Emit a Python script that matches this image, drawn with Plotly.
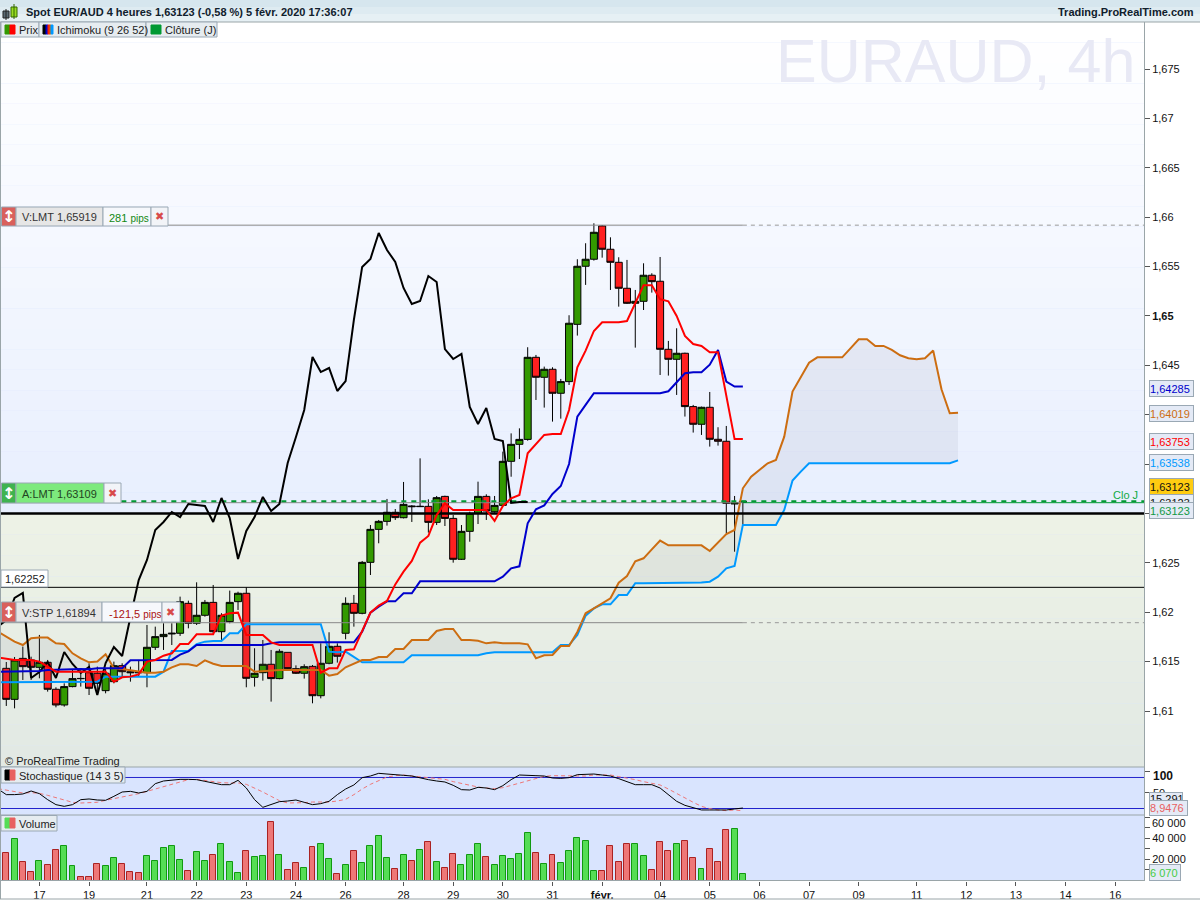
import plotly.graph_objects as go

W = 1200
H = 900
FONT = "Liberation Sans"

# 4h candles, values
open_prices = [
    1.61432, 1.61118, 1.61533, 1.61517, 1.61442, 1.61493, 1.6122, 1.61061, 1.61247, 1.6133,
    1.61388, 1.61382, 1.61206, 1.61297, 1.61459, 1.61398, 1.61395, 1.61388, 1.61645, 1.61753,
    1.6178, 1.61787, 1.6209, 1.61888, 1.61969, 1.621, 1.61803, 1.61905, 1.62107, 1.62192,
    1.61341, 1.61388, 1.61473, 1.61328, 1.61594, 1.61429, 1.61382, 1.61452, 1.61155, 1.61483,
    1.61655, 1.61787, 1.6209, 1.61989, 1.62505, 1.62839, 1.6292, 1.63012, 1.62957, 1.63076,
    1.63069, 1.63072, 1.6291, 1.63173, 1.6295, 1.62536, 1.62819, 1.63001, 1.63173, 1.63018,
    1.63082, 1.63528, 1.637, 1.6375, 1.64581, 1.64379, 1.6446, 1.64217, 1.64335, 1.64915,
    1.65503, 1.65574, 1.65911, 1.65675, 1.65543, 1.6528, 1.65128, 1.65148, 1.65412, 1.65351,
    1.64662, 1.64561, 1.64622, 1.64082, 1.63903, 1.64075, 1.63751, 1.63731, 1.63096, 1.63112,
]
high_prices = [
    1.61496, 1.61547, 1.61652, 1.6155, 1.6177, 1.61517, 1.6124, 1.6128, 1.61415, 1.61415,
    1.61483, 1.61449, 1.61432, 1.615, 1.61483, 1.61449, 1.61517, 1.61871, 1.61854, 1.61888,
    1.61888, 1.62158, 1.62117, 1.62303, 1.62124, 1.62276, 1.6199, 1.62219, 1.62208, 1.62252,
    1.61635, 1.61719, 1.61618, 1.61625, 1.61594, 1.61462, 1.61473, 1.61466, 1.61685, 1.61797,
    1.61685, 1.62151, 1.62175, 1.62519, 1.62883, 1.62934, 1.63147, 1.63045, 1.63319, 1.63085,
    1.63558, 1.63143, 1.63177, 1.6318, 1.62984, 1.62883, 1.63018, 1.63322, 1.63194, 1.63177,
    1.63626, 1.63811, 1.63862, 1.64683, 1.64605, 1.64487, 1.6448, 1.64362, 1.65007, 1.65574,
    1.65736, 1.65938, 1.6592, 1.65796, 1.65594, 1.65567, 1.65263, 1.65533, 1.65432, 1.65597,
    1.64747, 1.64875, 1.64628, 1.64099, 1.64082, 1.6423, 1.63873, 1.63886, 1.63177, 1.63123,
]
low_prices = [
    1.61051, 1.61027, 1.61314, 1.61314, 1.61331, 1.61196, 1.61037, 1.61044, 1.6124, 1.61247,
    1.61162, 1.61162, 1.61179, 1.6128, 1.61348, 1.61297, 1.61348, 1.6124, 1.61618, 1.61618,
    1.61668, 1.6176, 1.61837, 1.61871, 1.61955, 1.6178, 1.61719, 1.61888, 1.62023, 1.6124,
    1.61247, 1.61307, 1.61095, 1.61321, 1.61422, 1.61375, 1.61328, 1.61078, 1.61128, 1.61473,
    1.6149, 1.61726, 1.61854, 1.61979, 1.62377, 1.62698, 1.62877, 1.62934, 1.6295, 1.62914,
    1.63065, 1.62806, 1.62883, 1.62873, 1.62502, 1.62529, 1.62714, 1.62893, 1.62934, 1.63008,
    1.63076, 1.63372, 1.63551, 1.63737, 1.64149, 1.64072, 1.6393, 1.6396, 1.64301, 1.64801,
    1.65314, 1.6556, 1.6559, 1.65263, 1.65094, 1.65121, 1.64679, 1.6506, 1.65236, 1.64402,
    1.64396, 1.642, 1.63981, 1.63819, 1.63795, 1.63677, 1.63687, 1.62799, 1.62613, 1.6289,
]
close_prices = [
    1.61118, 1.61516, 1.61449, 1.61442, 1.61493, 1.6122, 1.61061, 1.61247, 1.61328, 1.61328,
    1.6123, 1.6128, 1.61382, 1.61459, 1.61398, 1.61388, 1.61388, 1.61645, 1.61753, 1.61776,
    1.61787, 1.62107, 1.61888, 1.61969, 1.621, 1.61803, 1.61969, 1.621, 1.62192, 1.61331,
    1.61382, 1.61473, 1.61328, 1.61604, 1.61429, 1.61382, 1.61449, 1.61155, 1.61483, 1.61655,
    1.61554, 1.6209, 1.61989, 1.62505, 1.62839, 1.6292, 1.63012, 1.62958, 1.63092, 1.63069,
    1.63072, 1.6291, 1.6316, 1.6295, 1.62536, 1.62819, 1.63001, 1.63173, 1.63025, 1.63082,
    1.63528, 1.637, 1.6375, 1.64581, 1.64379, 1.6446, 1.64217, 1.64335, 1.64926, 1.65503,
    1.65574, 1.65847, 1.65675, 1.65543, 1.6528, 1.65128, 1.65148, 1.65412, 1.65347, 1.64662,
    1.64561, 1.64622, 1.64082, 1.63903, 1.64075, 1.63751, 1.63731, 1.63103, 1.63109, 1.63123,
]

# ichimoku lines, they start one bar before the first visible candle
tenkan = [
    1.61543, 1.61527, 1.61517, 1.61517, 1.61517, 1.615, 1.61449, 1.61398, 1.61398, 1.61398, 1.61398,
    1.61398, 1.61398, 1.61398, 1.61297, 1.61341, 1.61348, 1.61371, 1.615, 1.61517, 1.6156,
    1.61584, 1.61678, 1.61678, 1.61776, 1.61776, 1.61776, 1.61965, 1.61989, 1.61996, 1.6177,
    1.6177, 1.6177, 1.61695, 1.61668, 1.61668, 1.61668, 1.61668, 1.61668, 1.61388, 1.61432,
    1.61432, 1.61618, 1.61624, 1.61803, 1.61996, 1.62067, 1.62114, 1.62282, 1.62411, 1.62519,
    1.62704, 1.62772, 1.62984, 1.63103, 1.63035, 1.63035, 1.63035, 1.63035, 1.63035, 1.62924,
    1.63076, 1.63153, 1.63187, 1.63609, 1.63703, 1.63795, 1.63805, 1.63805, 1.64048, 1.6448,
    1.64649, 1.64848, 1.64936, 1.64936, 1.64936, 1.64949, 1.65128, 1.6531, 1.6531, 1.65169,
    1.65148, 1.65, 1.64797, 1.64716, 1.64696, 1.64632, 1.64632, 1.64183, 1.63753, 1.63753,
]
kijun = [
    1.61398, 1.61398, 1.61398, 1.61398, 1.61398, 1.61405, 1.61415, 1.61419, 1.61422, 1.61425, 1.61425,
    1.61422, 1.61432, 1.61432, 1.61432, 1.61432, 1.61513, 1.61513, 1.61513, 1.61513, 1.61513,
    1.61517, 1.61571, 1.61604, 1.61668, 1.61668, 1.61668, 1.61668, 1.61668, 1.61668, 1.61668,
    1.61668, 1.61668, 1.61685, 1.61695, 1.61695, 1.61695, 1.61695, 1.61695, 1.61695, 1.61695,
    1.61695, 1.61695, 1.61695, 1.61803, 1.61996, 1.62056, 1.6211, 1.6211, 1.62191, 1.62191,
    1.62313, 1.62313, 1.62313, 1.62313, 1.62313, 1.62313, 1.62313, 1.62313, 1.62313, 1.62313,
    1.6236, 1.62444, 1.62465, 1.629, 1.63042, 1.63082, 1.63197, 1.63278, 1.63501, 1.63981,
    1.64099, 1.64217, 1.64217, 1.64217, 1.64217, 1.64217, 1.64217, 1.64217, 1.64217, 1.64217,
    1.64237, 1.64325, 1.64419, 1.6443, 1.6443, 1.64507, 1.64656, 1.64335, 1.64285, 1.64285,
]
senkou_a = [
    1.61803, 1.61753, 1.61702, 1.61668, 1.61736, 1.61743, 1.61743, 1.61685, 1.61678, 1.61584, 1.61533,
    1.61493, 1.615, 1.61574, 1.61432, 1.61425, 1.61415, 1.61398, 1.61388, 1.61388, 1.61398,
    1.61442, 1.61473, 1.61473, 1.61456, 1.61513, 1.61479, 1.61456, 1.61456, 1.61456, 1.61456,
    1.61398, 1.61405, 1.61415, 1.61415, 1.61415, 1.61415, 1.61415, 1.61415, 1.61415, 1.61358,
    1.61375, 1.61442, 1.61483, 1.61516, 1.61516, 1.61547, 1.61547, 1.61628, 1.61628, 1.61719,
    1.61719, 1.61719, 1.6181, 1.6183, 1.6183, 1.61719, 1.61719, 1.61712, 1.61685, 1.61695,
    1.61685, 1.61685, 1.61685, 1.61675, 1.61533, 1.61564, 1.61567, 1.61658, 1.61658, 1.618,
    1.61989, 1.62039, 1.6209, 1.62141, 1.62299, 1.62367, 1.62515, 1.62546, 1.62637, 1.62725,
    1.62677, 1.62677, 1.62677, 1.62677, 1.62677, 1.6262, 1.62704, 1.62792, 1.62833, 1.63255,
    1.63373, 1.63441, 1.63508, 1.63542, 1.63778, 1.64234, 1.64386, 1.64527, 1.64581, 1.64581,
    1.64581, 1.64581, 1.64672, 1.64764, 1.64764, 1.64696, 1.64696, 1.64656, 1.64602, 1.64571,
    1.64561, 1.64571, 1.64649, 1.64257, 1.64014, 1.64019,
]
senkou_b = [
    1.6129, 1.6129, 1.6129, 1.6129, 1.6129, 1.6129, 1.6129, 1.6129, 1.6129, 1.6129, 1.6129,
    1.6129, 1.61297, 1.61348, 1.61348, 1.61348, 1.61348, 1.61348, 1.61348, 1.61348, 1.61398,
    1.61608, 1.61608, 1.61608, 1.61678, 1.61702, 1.61709, 1.61709, 1.61787, 1.61787, 1.61878,
    1.61878, 1.61878, 1.61878, 1.61878, 1.61878, 1.61878, 1.61878, 1.61878, 1.61878, 1.61601,
    1.61594, 1.61601, 1.6155, 1.61493, 1.61493, 1.61493, 1.61493, 1.61493, 1.61493, 1.61564,
    1.61564, 1.61564, 1.61564, 1.61564, 1.61564, 1.61564, 1.61564, 1.61564, 1.61584, 1.61594,
    1.61594, 1.61594, 1.61594, 1.61594, 1.61594, 1.61594, 1.61594, 1.61668, 1.61668, 1.61769,
    1.61965, 1.62039, 1.6208, 1.6208, 1.62174, 1.62174, 1.62293, 1.62293, 1.62293, 1.62293,
    1.62293, 1.62293, 1.62293, 1.62293, 1.623, 1.62309, 1.6236, 1.62444, 1.62468, 1.62884,
    1.62884, 1.62884, 1.62884, 1.62884, 1.63036, 1.63333, 1.63424, 1.63508, 1.63508, 1.63508,
    1.63508, 1.63508, 1.63508, 1.63508, 1.63508, 1.63508, 1.63508, 1.63508, 1.63508, 1.63508,
    1.63508, 1.63508, 1.63508, 1.63508, 1.63508, 1.63538,
]
chikou = [
    1.61854, 1.61921, 1.62144, 1.62195, 1.61334, 1.61395, 1.61496, 1.61334, 1.61597, 1.61476, 1.61385,
    1.61446, 1.61162, 1.61486, 1.61648, 1.61557, 1.61952, 1.62326, 1.62529, 1.62833, 1.62914,
    1.63015, 1.62964, 1.63096, 1.63086, 1.63076, 1.62914, 1.63157, 1.62954, 1.62539, 1.62823,
    1.62964, 1.63167, 1.63025, 1.63096, 1.63511, 1.63774, 1.64048, 1.64584, 1.64432, 1.64473,
    1.6424, 1.64341, 1.64959, 1.65496, 1.65577, 1.6584, 1.65668, 1.65546, 1.65283, 1.65121,
    1.65151, 1.65404, 1.65344, 1.64665, 1.64564, 1.64615, 1.64078, 1.63906, 1.64068, 1.63754,
    1.63734, 1.63106, 1.63116, 1.63116,
]

stoch_k = [
    59.2, 46.2, 46.2, 47.7, 54.6, 48.5, 34.6, 23.1, 19.2, 23.1, 34.6,
    36.2, 33.8, 33.1, 42.3, 52.3, 53.8, 50.0, 53.8, 71.5, 77.7,
    80.0, 81.5, 81.5, 80.8, 76.9, 72.3, 69.2, 69.2, 79.2, 61.5,
    34.6, 16.9, 23.1, 30.0, 31.5, 33.8, 28.5, 23.1, 25.4, 30.8,
    46.2, 59.2, 68.5, 85.4, 89.2, 95.4, 93.8, 91.5, 90.8, 89.2,
    84.6, 80.8, 77.7, 75.4, 67.7, 57.7, 56.9, 63.1, 61.5, 57.7,
    66.9, 80.8, 91.5, 91.5, 90.0, 89.2, 84.6, 83.8, 85.4, 92.3,
    93.8, 93.8, 91.5, 89.2, 83.1, 76.9, 69.2, 69.2, 69.2, 61.5,
    46.2, 30.8, 21.5, 15.4, 10.8, 10.8, 10.8, 10.8, 13.1, 15.3,
]
stoch_d = [
    60.0, 56.2, 52.3, 50.0, 50.8, 49.2, 44.6, 39.2, 33.8, 28.5, 26.9,
    26.9, 28.5, 33.1, 36.9, 40.0, 43.8, 48.5, 53.8, 59.2, 63.8,
    70.0, 76.2, 80.8, 81.5, 78.5, 76.2, 73.8, 73.1, 73.1, 70.0,
    61.5, 52.3, 42.3, 32.3, 26.9, 26.9, 27.7, 29.2, 28.5, 29.2,
    31.5, 35.4, 46.2, 59.2, 70.0, 79.2, 86.9, 90.0, 91.5, 89.2,
    86.9, 85.4, 83.8, 81.5, 76.2, 71.5, 66.9, 63.8, 61.5, 60.0,
    62.3, 67.7, 73.1, 79.2, 83.8, 88.5, 90.0, 90.0, 89.2, 88.5,
    89.2, 91.5, 92.3, 91.5, 87.7, 84.6, 80.8, 76.2, 72.3, 68.5,
    59.2, 48.5, 37.7, 28.5, 19.2, 13.8, 10.8, 9.2, 10.8, 8.95,
]
stoch_levels = [85.8, 14.2]

volumes = [
    26350, 39690, 17780, 8260, 18730, 14920, 29210, 33020, 13970, 3490,
    3490, 15880, 13970, 21590, 15880, 8260, 7300, 23500, 18730, 31120,
    33020, 19690, 9210, 27310, 18730, 24450, 34930, 17780, 7300, 28260,
    22540, 23500, 54930, 24450, 10160, 16830, 12070, 32070, 34930, 20640,
    6350, 14920, 28260, 16830, 33020, 41590, 21590, 11110, 24450, 18730,
    29210, 36830, 17780, 12070, 25400, 14920, 24450, 34930, 22540, 14920,
    23500, 20640, 25400, 44450, 26350, 15880, 24450, 16830, 28260, 40640,
    37780, 9210, 9210, 33020, 17780, 34930, 34930, 23500, 10160, 36830,
    28260, 34930, 37780, 21590, 11110, 30160, 17780, 47310, 48260, 6070,
]

# day labels sit on the first bar of each session
day_ticks = [4, 10, 17, 23, 29, 35, 41, 48, 54, 60, 66, 72, 79, 85, 91, 97, 103, 110, 116, 122, 128, 134]
day_labels = ["17", "19", "21", "22", "23", "24", "26", "28", "29", "30", "31", "<b>févr.</b>",
              "04", "05", "06", "07", "09", "11", "12", "13", "14", "16"]
# 1,63 1,635 and 1,64 are covered by the value tags in the picture
price_ticks = [1.61, 1.615, 1.62, 1.625, 1.63, 1.635, 1.64, 1.645, 1.65, 1.655, 1.66, 1.665, 1.67, 1.675]
price_labels = ["1,61", "1,615", "1,62", "1,625", "", "", "", "1,645", "<b>1,65</b>",
                "1,655", "1,66", "1,665", "1,67", "1,675"]
volume_ticks = [10000, 20000, 30000, 40000, 50000, 60000]
volume_labels = ["", "20 000", "", "40 000", "", ""]

stop_level = 1.61894
limit_level = 1.65919
buy_level = 1.63109
close_level = 1.63123
support_level = 1.63
thin_level = 1.62252

last_bar = 89
x_left = -0.76
x_right = 137.47
y_low = 1.60433
y_high = 1.67976


def px(x):
    return x / W


def py(y):
    return 1 - y / H


def box(x0, y0, x1, y1, fill, line="#9aa8b4"):
    return dict(type="rect", xref="paper", yref="paper", x0=px(x0), x1=px(x1), y0=py(y0), y1=py(y1),
                fillcolor=fill, line=dict(color=line, width=1), layer="above")


def label(x, y, text, color="#222222", size=11, anchor="left", bold=False, family=FONT):
    if bold:
        text = "<b>" + text + "</b>"
    return dict(xref="paper", yref="paper", x=px(x), y=py(y), text=text, showarrow=False,
                xanchor=anchor, yanchor="middle", font=dict(family=family, size=size, color=color))


def value_tag(y0, text, color, fill="#e4eaf6", width=43, height=15):
    return dict(xref="paper", yref="paper", x=px(1149), y=py(y0), text=text, showarrow=False,
                xanchor="left", yanchor="top", width=width, height=height, align="left",
                bgcolor=fill, bordercolor="#9aa8b4", borderwidth=1, borderpad=0,
                font=dict(family=FONT, size=11, color=color))


def level_line(x0, x1, level, color, width, dash="solid"):
    return go.Scatter(x=[x0, x1], y=[level, level], mode="lines", line=dict(color=color, width=width, dash=dash),
                      hoverinfo="skip", showlegend=False)


def series_line(values, color, width, yaxis="y", dash="solid"):
    return go.Scatter(x=list(range(-1, len(values) - 1)), y=values, yaxis=yaxis, mode="lines",
                      line=dict(color=color, width=width, dash=dash), hoverinfo="skip", showlegend=False)


def gradient_strips(y0, y1, top, bottom, steps):
    # plotly draws candles under every scatter fill, so the pane gradient has to be shapes
    strips = []
    for k in range(steps):
        t = k / (steps - 1)
        rgb = [round(a + (b - a) * t) for a, b in zip(top, bottom)]
        strips.append(dict(type="rect", xref="paper", yref="paper", x0=0, x1=px(1144),
                           y0=py(y0 + (y1 - y0) * (k + 1) / steps), y1=py(y0 + (y1 - y0) * k / steps),
                           fillcolor="rgb(%d,%d,%d)" % tuple(rgb), line=dict(width=0), layer="below"))
    return strips


bars = list(range(len(open_prices)))
fig = go.Figure()

# kumo
fig.add_trace(series_line(senkou_b, "#0099ff", 2))
fig.add_trace(series_line(senkou_a, "#cc6d11", 2))
fig.data[-1].update(fill="tonexty", fillcolor="rgba(90,90,120,0.08)")

fig.add_trace(level_line(x_left, x_right, thin_level, "#000000", 1))
fig.add_trace(level_line(x_left, last_bar, stop_level, "#888888", 1))
fig.add_trace(level_line(last_bar, x_right, stop_level, "#999999", 1, "4px,4px"))
fig.add_trace(level_line(x_left, last_bar, limit_level, "#888888", 1))
fig.add_trace(level_line(last_bar, x_right, limit_level, "#999999", 1, "4px,4px"))
fig.add_trace(level_line(x_left, last_bar, buy_level, "#888888", 1))
fig.add_trace(level_line(last_bar, x_right, buy_level, "#009933", 1))

fig.add_trace(go.Candlestick(
    x=bars, open=open_prices, high=high_prices, low=low_prices, close=close_prices,
    increasing=dict(fillcolor="#339900", line=dict(color="#000000", width=1)),
    decreasing=dict(fillcolor="#ff2020", line=dict(color="#000000", width=1)),
    whiskerwidth=0, showlegend=False))

fig.add_trace(level_line(x_left, x_right, support_level, "#000000", 2.5))
fig.add_trace(level_line(13.9, x_right, close_level, "#009933", 2, "5px,5px"))

fig.add_trace(series_line(chikou, "#000000", 2))
fig.add_trace(series_line(kijun, "#0000cc", 2))
fig.add_trace(series_line(tenkan, "#ff0000", 2))

# stochastic pane
for lvl in stoch_levels:
    fig.add_trace(go.Scatter(x=[x_left, x_right], y=[lvl, lvl], yaxis="y2", mode="lines",
                             line=dict(color="#2222cc", width=1), hoverinfo="skip", showlegend=False))
fig.add_trace(series_line(stoch_d, "#ee7777", 1, "y2", "4px,3px"))
fig.add_trace(series_line(stoch_k, "#000000", 1, "y2"))

# volume pane, bars take the candle colour
up = [c >= o for o, c in zip(open_prices, close_prices)]
fig.add_trace(go.Bar(x=bars, y=volumes, yaxis="y3", width=0.72,
                     marker=dict(color=["#55dd55" if u else "#ee7777" for u in up],
                                 line=dict(color=["#119911" if u else "#aa2222" for u in up], width=1)),
                     hoverinfo="skip", showlegend=False))

# chrome around the panes
shapes = gradient_strips(22, 513, (255, 255, 255), (232, 239, 254), 24)
shapes += gradient_strips(513, 767, (237, 242, 230), (226, 233, 228), 12)
shapes += [
    dict(type="rect", xref="paper", yref="paper", x0=0, x1=1, y0=py(7), y1=1, fillcolor="#d6e6ee",
         line=dict(width=0), layer="above"),
    dict(type="rect", xref="paper", yref="paper", x0=0, x1=1, y0=py(14), y1=py(7), fillcolor="#deebf1",
         line=dict(width=0), layer="above"),
    dict(type="rect", xref="paper", yref="paper", x0=0, x1=1, y0=py(22), y1=py(14), fillcolor="#e6f0f4",
         line=dict(width=0), layer="above"),
]
for y in [22, 767, 815, 880.5, 899]:
    shapes.append(dict(type="line", xref="paper", yref="paper", x0=0, x1=px(1144) if y in (767, 815, 880.5) else 1,
                       y0=py(y), y1=py(y), line=dict(color="#9aa5a8", width=1), layer="above"))
shapes.append(dict(type="line", xref="paper", yref="paper", x0=px(0.5), x1=px(0.5), y0=py(22), y1=py(899),
                   line=dict(color="#9aa5a8", width=1), layer="above"))

# title icon
shapes.append(box(3, 11, 9, 18, "#5a6a72", "#222222"))
shapes.append(box(11, 7, 17, 17, "#99dd22", "#336600"))
shapes.append(dict(type="line", xref="paper", yref="paper", x0=px(14), x1=px(14), y0=py(4), y1=py(19),
                   line=dict(color="#336600", width=1), layer="above"))
shapes.append(dict(type="line", xref="paper", yref="paper", x0=px(6), x1=px(6), y0=py(9), y1=py(20),
                   line=dict(color="#222222", width=1), layer="above"))

# legend tabs
tab_fill = "#e6ecf0"
shapes += [box(1, 22, 39, 37, tab_fill), box(39, 22, 146, 37, tab_fill), box(146, 22, 217, 37, tab_fill),
           box(1, 767, 125, 783, tab_fill), box(1, 815.5, 57, 831, tab_fill)]
for x0, x1, y0, y1, c in [
    (5, 10, 25, 34, "#339900"), (10, 15, 25, 34, "#ff0000"),
    (43, 46, 25, 34, "#000000"), (46, 48, 25, 34, "#0000cc"), (48, 50, 25, 34, "#ff2200"),
    (50, 51, 25, 34, "#cc6d11"), (51, 53, 25, 34, "#0099ff"), (151, 161, 25, 34, "#009933"),
    (5, 10, 770, 780, "#000000"), (10, 15, 770, 780, "#e86060"),
    (5, 10, 818, 828, "#55dd55"), (10, 15, 818, 828, "#e86060"),
]:
    shapes.append(box(x0, y0, x1, y1, c, c))

# order tags on the left
grip_red = "#d9605c"
shapes += [
    box(1.5, 207, 16, 226, grip_red), box(16, 207, 103, 226, "#e6e6e6"), box(103, 207, 151, 226, "#f6f8fc"),
    box(151, 207, 168, 226, "#f2f4f8"),
    box(1.5, 483, 16, 503, "#3fb34f"), box(16, 483, 104, 503, "#7dea7d"), box(104, 483, 121, 503, "#f2f4f8"),
    box(1, 570, 48, 587, "#ffffff"),
    box(1.5, 602, 16, 622, grip_red), box(16, 602, 102, 622, "#e6e6e6"), box(102, 602, 162, 622, "#f6f8fc"),
    box(162, 602, 180, 622, "#f2f4f8"),
]

annotations = [
    label(774, 61, "EURAUD, 4h", color="#e8e9f5", size=61),
    label(24, 12, "Spot EUR/AUD 4 heures 1,63123 (-0,58 %) 5 févr. 2020 17:36:07", color="#10202c", bold=True),
    label(1196, 12, "Trading.ProRealTime.com", color="#10202c", anchor="right", bold=True),
    label(17, 30, "Prix"),
    label(55, 30, "Ichimoku (9 26 52)"),
    label(163, 30, "Clôture (J)"),
    label(17, 775.5, "Stochastique (14 3 5)"),
    label(17, 823.5, "Volume"),
    label(3, 761, "© ProRealTime Trading"),
    label(8.5, 216.5, "↕", color="#ffffff", size=16, anchor="center", bold=True, family="DejaVu Sans"),
    label(20, 217, "V:LMT", color="#333333"),
    label(99, 217, "1,65919", color="#333333", anchor="right"),
    label(107, 217.5, "281 <span style='font-size:10px'>pips</span>", color="#118811"),
    label(159.5, 216.5, "✖", color="#d84a4a", size=11, anchor="center", family="DejaVu Sans"),
    label(8.5, 493, "↕", color="#ffffff", size=16, anchor="center", bold=True, family="DejaVu Sans"),
    label(20, 494, "A:LMT", color="#224422"),
    label(99, 494, "1,63109", color="#224422", anchor="right"),
    label(112.5, 493, "✖", color="#d84a4a", size=11, anchor="center", family="DejaVu Sans"),
    label(3, 579, "1,62252", color="#222222"),
    label(8.5, 612, "↕", color="#ffffff", size=16, anchor="center", bold=True, family="DejaVu Sans"),
    label(20, 613, "V:STP", color="#333333"),
    label(98, 613, "1,61894", color="#333333", anchor="right"),
    label(107, 613.5, "-121,5 <span style='font-size:10px'>pips</span>", color="#aa1111"),
    label(171, 612.5, "✖", color="#d84a4a", size=11, anchor="center", family="DejaVu Sans"),
    label(1111, 495, "Clo J", color="#11aa44", size=11),
    label(1151, 776, "100", color="#111111", size=12, bold=True),
    label(1151, 793, "50", color="#111111"),
    label(1150, 823, "60 000", color="#111111"),
    value_tag(380, "1,64285", "#0000cc"),
    value_tag(405, "1,64019", "#cc6d11"),
    value_tag(433, "1,63753", "#ff0000"),
    value_tag(453.5, "1,63538", "#0099ff"),
    value_tag(494, "1,63123", "#111111", fill="#e8eef6"),
    value_tag(478, "1,63123", "#111111", fill="#ffcc11"),
    value_tag(502, "1,63123", "#119944"),
    value_tag(792, "15,291", "#111111", width=32, height=12),
    value_tag(800, "8,9476", "#e86060", width=37, height=14),
    value_tag(864, "6 070", "#44cc44", width=30, height=15),
]

axis_font = dict(family=FONT, size=11, color="#111111")
fig.update_layout(
    template="none",
    width=W, height=H,
    margin=dict(l=0, r=0, t=0, b=0),
    paper_bgcolor="#ffffff",
    plot_bgcolor="#d9e4fe",
    showlegend=False,
    bargap=0,
    boxgap=0.15,
    boxgroupgap=0,
    shapes=shapes,
    annotations=annotations,
    xaxis=dict(domain=[0, 1144 / W], anchor="y3", range=[x_left, x_right], tickvals=day_ticks, ticktext=day_labels,
               ticks="outside", ticklen=4, tickcolor="#555555", tickfont=axis_font, showgrid=False, zeroline=False,
               showline=False, tickangle=0, automargin=False, rangeslider=dict(visible=False)),
    yaxis=dict(domain=[py(767), py(22)], range=[y_low, y_high], side="right", anchor="x", tickvals=price_ticks,
               ticktext=price_labels, ticks="outside", ticklen=5, tickcolor="#555555", tickfont=axis_font,
               showgrid=False, zeroline=False, showline=True, linecolor="#9aa5a8", linewidth=1, automargin=False),
    yaxis2=dict(domain=[py(815), py(767)], range=[-0.8, 110], side="right", anchor="x", tickvals=[50, 100],
                ticktext=["", ""], ticks="outside", ticklen=5, tickcolor="#555555", showgrid=False, zeroline=False,
                showline=True, linecolor="#9aa5a8", linewidth=1, automargin=False),
    yaxis3=dict(domain=[py(880.5), py(815)], range=[0, 61900], side="right", anchor="x", tickvals=volume_ticks,
                ticktext=volume_labels, ticks="outside", ticklen=5, tickcolor="#555555", tickfont=axis_font,
                showgrid=False, zeroline=False, showline=True, linecolor="#9aa5a8", linewidth=1, automargin=False),
)

fig.write_html("out.html", config={"displayModeBar": False}, post_script="document.body.style.margin='0';")
